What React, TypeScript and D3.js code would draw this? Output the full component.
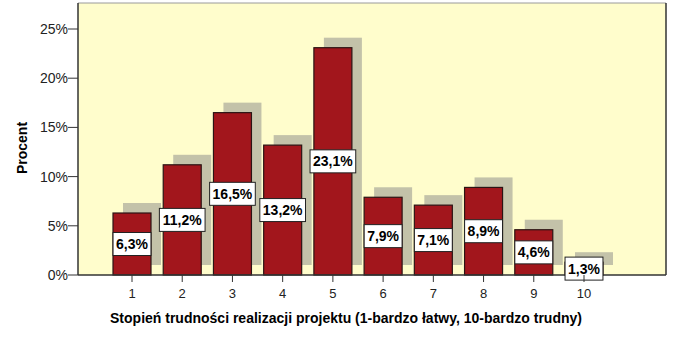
import React from "react";
import * as d3 from "d3";

const categories = [1, 2, 3, 4, 5, 6, 7, 8, 9, 10];
const values = [6.3, 11.2, 16.5, 13.2, 23.1, 7.9, 7.1, 8.9, 4.6, 1.3];
const labels = ["6,3%", "11,2%", "16,5%", "13,2%", "23,1%", "7,9%", "7,1%", "8,9%", "4,6%", "1,3%"];
const yTicks = [0, 5, 10, 15, 20, 25];
const yTickLabels = ["0%", "5%", "10%", "15%", "20%", "25%"];
const xTitle = "Stopień trudności realizacji projektu (1-bardzo łatwy, 10-bardzo trudny)";
const yTitle = "Procent";

const W = 674, H = 338;
const plotL = 78, plotR = 666, plotT = 3, plotB = 275;

export default function App() {
  const x = d3.scaleLinear().domain([1, 10]).range([132, 584]);
  const y = d3.scaleLinear().domain([0, 25]).range([plotB, 29]);
  const bw = 38;
  const off = 10;
  const font = "Arial, 'Liberation Sans', sans-serif";
  const textW = (s: string) => {
    let w = 0;
    for (const c of s) w += c === "," ? 3.9 : c === "%" ? 12.45 : 7.78;
    return w;
  };
  return (
    <svg width={W} height={H} style={{ position: "absolute", left: 0, top: 0 }} fontFamily={font}>
      <rect x={0} y={0} width={W} height={H} fill="#fff" />
      <rect x={plotL} y={plotT} width={plotR - plotL} height={plotB - plotT} fill="#FFFDCC" />
      {categories.map((c, i) => (
        <rect key={"s" + c} x={x(c) - bw / 2 + off} y={y(values[i]) - off} width={bw}
          height={y(0) - y(values[i])} fill="#C3C2A9" />
      ))}
      {categories.map((c, i) => (
        <rect key={"b" + c} x={x(c) - bw / 2} y={y(values[i])} width={bw}
          height={y(0) - y(values[i])} fill="#A2161C" stroke="#2b1414" strokeWidth={1.2} />
      ))}
      <line x1={plotL} x2={plotR} y1={plotT} y2={plotT} stroke="#9a9a9a" />
      <line x1={plotR} x2={plotR} y1={plotT} y2={plotB} stroke="#333" strokeWidth={1.5} />
      <line x1={plotL} x2={plotL} y1={plotT} y2={plotB} stroke="#333" strokeWidth={1.5} />
      <line x1={plotL} x2={plotR} y1={plotB} y2={plotB} stroke="#333" strokeWidth={1.5} />
      {categories.map((c, i) => {
        const tw = textW(labels[i]) + 6;
        const cy = (y(values[i]) + y(0)) / 2;
        return (
          <g key={"l" + c}>
            <rect x={x(c) - tw / 2} y={cy - 11.5} width={tw} height={23} fill="#fff" stroke="#222" strokeWidth={1} />
            <text x={x(c)} y={cy} dy="0.36em" textAnchor="middle" fontSize={14} fontWeight="bold" fill="#000">{labels[i]}</text>
          </g>
        );
      })}
      {yTicks.map((t, i) => (
        <g key={"y" + t}>
          <line x1={plotL - 10} x2={plotL} y1={y(t)} y2={y(t)} stroke="#333" />
          <text x={plotL - 10} y={y(t)} dy="0.35em" textAnchor="end" fontSize={14} fill="#222">{yTickLabels[i]}</text>
        </g>
      ))}
      {categories.map((c) => (
        <g key={"x" + c}>
          <line x1={x(c)} x2={x(c)} y1={plotB} y2={plotB + 7} stroke="#333" />
          <text x={x(c)} y={293} dy="0.35em" textAnchor="middle" fontSize={13} fill="#222">{c}</text>
        </g>
      ))}
      <text x={346} y={318} dy="0.35em" textAnchor="middle" fontSize={14} fontWeight="bold" fill="#000">{xTitle}</text>
      <text transform={`translate(22,148) rotate(-90)`} dy="0.35em" textAnchor="middle" fontSize={14} fontWeight="bold" fill="#000">{yTitle}</text>
    </svg>
  );
}
